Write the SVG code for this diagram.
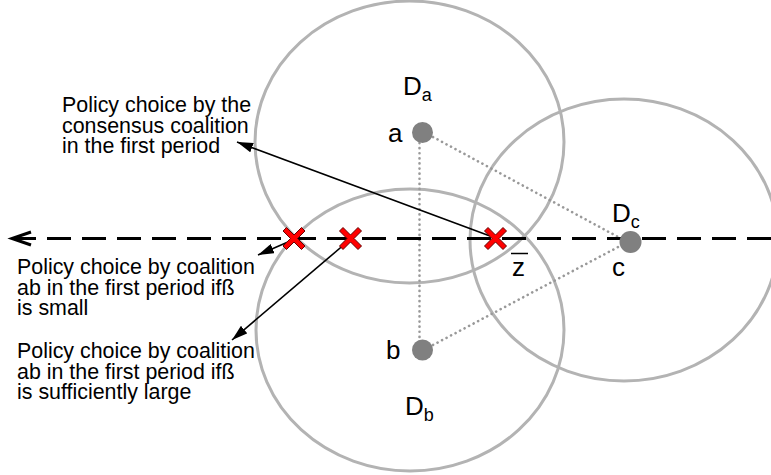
<svg xmlns="http://www.w3.org/2000/svg" width="771" height="475" viewBox="0 0 771 475">
<style>
.reg{fill:none;stroke:#b3b3b3;stroke-width:3}
.dot{fill:#808080}
.dotted{stroke:#999;stroke-width:2.6;stroke-dasharray:0.1 5;stroke-linecap:round;fill:none}
.lbl{font-family:"Liberation Sans",Arial,sans-serif;font-size:26px;fill:#000}
.txt{font-family:"Liberation Sans",Arial,sans-serif;font-size:21.4px;fill:#000}
.ptr{stroke:#000;stroke-width:1.6;fill:none;marker-end:url(#ah)}
.cross{fill:#f00;stroke:#600;stroke-width:1}
</style>
<defs>
<marker id="ah" viewBox="0 0 16 10" refX="16" refY="5" markerWidth="16" markerHeight="10" markerUnits="userSpaceOnUse" orient="auto">
<path d="M0,0 L16,5 L0,10 Z" fill="#000"/>
</marker>
<polygon id="x" points="-7.5,-11 0,-3.5 7.5,-11 11,-7.5 3.5,0 11,7.5 7.5,11 0,3.5 -7.5,11 -11,7.5 -3.5,0 -11,-7.5"/>
</defs>
<g id="Da">
<ellipse class="reg" cx="409.5" cy="142" rx="154.5" ry="141"/>
<text class="lbl" x="403" y="95">D<tspan font-size="18" dy="6">a</tspan></text>
</g>
<g id="Db">
<ellipse class="reg" cx="410" cy="330" rx="154" ry="141"/>
<text class="lbl" x="405" y="415">D<tspan font-size="18" dy="6">b</tspan></text>
</g>
<g id="Dc">
<ellipse class="reg" cx="624" cy="240" rx="154" ry="141"/>
<text class="lbl" x="612" y="222">D<tspan font-size="18" dy="6">c</tspan></text>
</g>
<g id="connectors">
<line class="dotted" x1="419.5" y1="143" x2="419.5" y2="340"/>
<line class="dotted" x1="433" y1="137" x2="620" y2="238"/>
<line class="dotted" x1="433" y1="345" x2="620" y2="246"/>
<line x1="12" y1="238.5" x2="771" y2="238.5" stroke="#000" stroke-width="3" stroke-dasharray="24 11"/>
<polyline points="31,232 12,238.5 31,245" fill="none" stroke="#000" stroke-width="3"/>
<line class="ptr" x1="490" y1="236" x2="237" y2="142"/>
<line class="ptr" x1="288" y1="242" x2="258" y2="255"/>
<line class="ptr" x1="346" y1="243" x2="232" y2="340"/>
</g>
<g id="a">
<circle class="dot" cx="422.5" cy="132.5" r="10.5"/>
<text class="lbl" x="388" y="142">a</text>
</g>
<g id="b">
<circle class="dot" cx="422.5" cy="350" r="10.5"/>
<text class="lbl" x="386" y="359">b</text>
</g>
<g id="c">
<circle class="dot" cx="630.5" cy="242" r="11"/>
<text class="lbl" x="612" y="276">c</text>
</g>
<g id="zbar">
<text class="lbl" x="512" y="276">z</text>
<line x1="511" y1="253.5" x2="528" y2="253.5" stroke="#000" stroke-width="1.5"/>
</g>
<g id="crosses">
<use href="#x" class="cross" x="294" y="238.5"/>
<use href="#x" class="cross" x="350.5" y="238.5"/>
<use href="#x" class="cross" x="495.5" y="238.5"/>
</g>
<g id="label-consensus">
<text class="txt" x="62" y="112">Policy choice by the</text>
<text class="txt" x="62" y="132.5">consensus coalition</text>
<text class="txt" x="62" y="153">in the first period</text>
</g>
<g id="label-small">
<text class="txt" x="17" y="274">Policy choice by coalition</text>
<text class="txt" x="17" y="294.5">ab in the first period ifß</text>
<text class="txt" x="17" y="315">is small</text>
</g>
<g id="label-large">
<text class="txt" x="17" y="358">Policy choice by coalition</text>
<text class="txt" x="17" y="378.5">ab in the first period ifß</text>
<text class="txt" x="17" y="399">is sufficiently large</text>
</g>
</svg>
